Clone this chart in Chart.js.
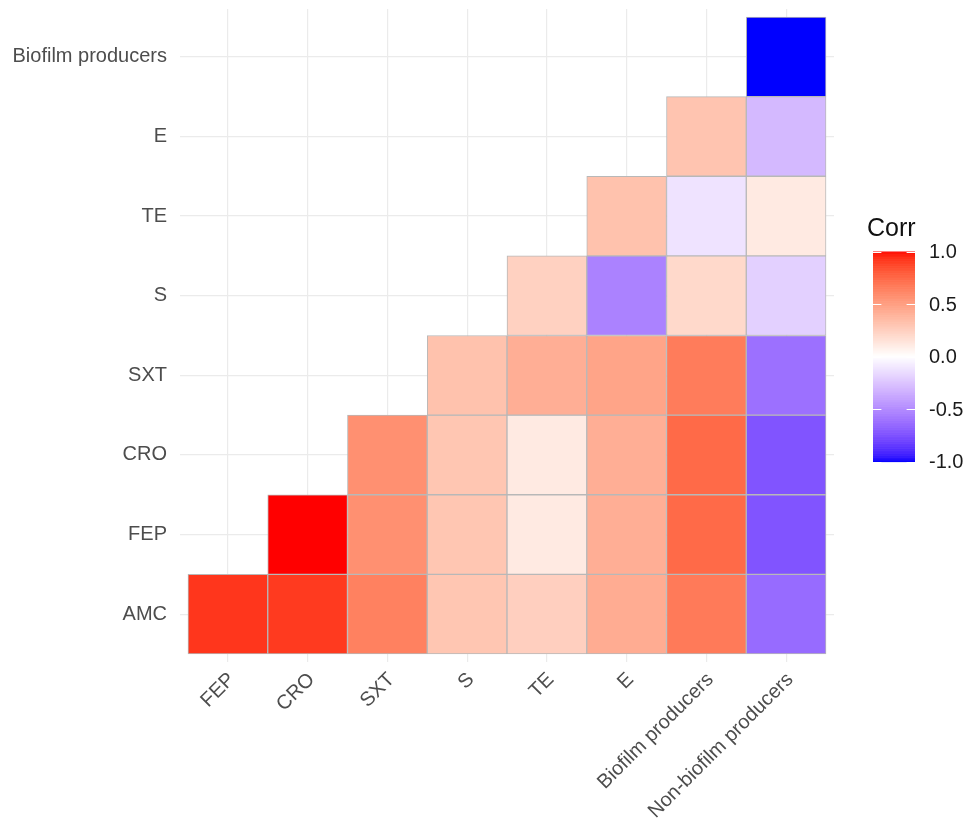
<!DOCTYPE html>
<html>
<head>
<meta charset="utf-8">
<script src="https://cdn.jsdelivr.net/npm/chart.js@4.4.1/dist/chart.umd.min.js"></script>
<style>
  html, body { margin: 0; padding: 0; background: #ffffff; }
  #wrap { width: 966px; height: 826px; }
</style>
</head>
<body>
<div id="wrap"><canvas id="corr" width="966" height="826"></canvas></div>
<script>
// Column (x) and row (y) variables of the lower-triangle correlation matrix
const xLabels = ['FEP', 'CRO', 'SXT', 'S', 'TE', 'E', 'Biofilm producers', 'Non-biofilm producers'];
const yLabels = ['AMC', 'FEP', 'CRO', 'SXT', 'S', 'TE', 'E', 'Biofilm producers'];

// Correlation coefficients, one array per row; row k starts at column k
const corrAMC      = [0.92, 0.91, 0.64, 0.30, 0.25, 0.43, 0.67, -0.64];
const corrFEP      = [1.00, 0.57, 0.30, 0.11, 0.42, 0.74, -0.74];
const corrCRO      = [0.57, 0.30, 0.11, 0.42, 0.74, -0.74];
const corrSXT      = [0.32, 0.42, 0.47, 0.66, -0.62];
const corrS        = [0.24, -0.54, 0.20, -0.20];
const corrTE       = [0.32, -0.12, 0.11];
const corrE        = [0.31, -0.30];
const corrBiofilm  = [-1.00];

const rows = [corrAMC, corrFEP, corrCRO, corrSXT, corrS, corrTE, corrE, corrBiofilm];

// Colour legend tick values
const legendTicks = [1.0, 0.5, 0.0, -0.5, -1.0];

// ---- diverging blue-white-red palette interpolated in CIE Lab ----
function toLin(c) { c /= 255; return c <= 0.04045 ? c / 12.92 : Math.pow((c + 0.055) / 1.055, 2.4); }
function fromLin(c) {
  c = Math.max(0, Math.min(1, c));
  const s = c <= 0.0031308 ? 12.92 * c : 1.055 * Math.pow(c, 1 / 2.4) - 0.055;
  return Math.round(Math.max(0, Math.min(1, s)) * 255);
}
const WX = 0.95047, WY = 1.0, WZ = 1.08883;
function rgbToLab(rgb) {
  const r = toLin(rgb[0]), g = toLin(rgb[1]), b = toLin(rgb[2]);
  const X = 0.4124 * r + 0.3576 * g + 0.1805 * b;
  const Y = 0.2126 * r + 0.7152 * g + 0.0722 * b;
  const Z = 0.0193 * r + 0.1192 * g + 0.9505 * b;
  const f = t => t > 0.008856 ? Math.cbrt(t) : 7.787 * t + 16 / 116;
  const fx = f(X / WX), fy = f(Y / WY), fz = f(Z / WZ);
  return [116 * fy - 16, 500 * (fx - fy), 200 * (fy - fz)];
}
function labToRgb(lab) {
  const fy = (lab[0] + 16) / 116, fx = fy + lab[1] / 500, fz = fy - lab[2] / 200;
  const inv = t => t * t * t > 0.008856 ? t * t * t : (t - 16 / 116) / 7.787;
  const X = WX * inv(fx), Y = WY * inv(fy), Z = WZ * inv(fz);
  const r = 3.2406 * X - 1.5372 * Y - 0.4986 * Z;
  const g = -0.9689 * X + 1.8758 * Y + 0.0415 * Z;
  const b = 0.0557 * X - 0.2040 * Y + 1.0570 * Z;
  return [fromLin(r), fromLin(g), fromLin(b)];
}
const LAB_LOW = rgbToLab([0, 0, 255]);
const LAB_MID = rgbToLab([255, 255, 255]);
const LAB_HIGH = rgbToLab([255, 0, 0]);
function corrColor(v) {
  const end = v >= 0 ? LAB_HIGH : LAB_LOW;
  const t = Math.min(1, Math.abs(v));
  const lab = [0, 1, 2].map(k => LAB_MID[k] + (end[k] - LAB_MID[k]) * t);
  const c = labToRgb(lab);
  return 'rgb(' + c[0] + ',' + c[1] + ',' + c[2] + ')';
}

// ---- build tile data: floating bars spanning one row band each ----
const cells = [];
const colors = [];
rows.forEach((vals, r) => {
  vals.forEach((v, k) => {
    const c = r + k;
    cells.push({ x: c, y: [r - 0.5, r + 0.5], v: v });
    colors.push(corrColor(v));
  });
});

const FONT = '"Liberation Sans", Arial, sans-serif';

// Colour-bar legend drawn beside the plot panel
const colorBarLegend = {
  id: 'colorBarLegend',
  afterDraw(chart) {
    const ctx = chart.ctx;
    const left = 873, width = 42, top = 251.5, bottom = 461.5;
    const yFor = v => top + (1 - v) / 2 * (bottom - top);
    ctx.save();
    ctx.fillStyle = '#111111';
    ctx.font = '25px ' + FONT;
    ctx.textAlign = 'left';
    ctx.textBaseline = 'alphabetic';
    ctx.fillText('Corr', 867, 236);
    const steps = 300;
    for (let i = 0; i < steps; i++) {
      const v = 1 - (i + 0.5) / steps * 2;
      ctx.fillStyle = corrColor(v);
      const y0 = top + i / steps * (bottom - top);
      const y1 = top + (i + 1) / steps * (bottom - top);
      ctx.fillRect(left, y0, width, y1 - y0 + 0.6);
    }
    ctx.strokeStyle = '#ffffff';
    ctx.lineWidth = 1;
    ctx.font = '20px ' + FONT;
    ctx.textBaseline = 'middle';
    legendTicks.forEach(v => {
      const y = Math.round(yFor(v)) + 0.5;
      ctx.beginPath();
      ctx.moveTo(left, y); ctx.lineTo(left + width / 5, y);
      ctx.moveTo(left + width - width / 5, y); ctx.lineTo(left + width, y);
      ctx.stroke();
      ctx.fillStyle = '#1a1a1a';
      ctx.fillText(v.toFixed(1), 929, yFor(v) + 1);
    });
    ctx.restore();
  }
};

const intTicks = n => axis => { axis.ticks = Array.from({ length: n }, (_, i) => ({ value: i })); };

new Chart(document.getElementById('corr'), {
  type: 'bar',
  data: {
    datasets: [{
      data: cells,
      backgroundColor: colors,
      borderColor: '#b8b8b8',
      borderWidth: 1,
      borderSkipped: false,
      barPercentage: 1,
      categoryPercentage: 1
    }]
  },
  options: {
    responsive: false,
    animation: false,
    events: [],
    layout: { padding: { top: 9, right: 132, left: 0, bottom: 0 } },
    plugins: { legend: { display: false }, tooltip: { enabled: false } },
    scales: {
      x: {
        type: 'linear',
        offset: false,
        min: -0.6,
        max: 7.6,
        afterBuildTicks: intTicks(xLabels.length),
        afterFit(scale) { scale.height = 164; scale.paddingLeft = 0; scale.paddingRight = 0; },
        grid: { color: '#ebebeb', lineWidth: 1.2, drawTicks: false, offset: false },
        border: { display: false },
        ticks: {
          autoSkip: false,
          minRotation: 45,
          maxRotation: 45,
          padding: 6,
          labelOffset: 4,
          color: '#4d4d4d',
          font: { family: FONT, size: 20 },
          callback: v => xLabels[v]
        }
      },
      y: {
        type: 'linear',
        min: -0.6,
        max: 7.6,
        afterBuildTicks: intTicks(yLabels.length),
        afterFit(scale) { scale.width = 180; scale.paddingTop = 0; scale.paddingBottom = 0; },
        grid: { color: '#ebebeb', lineWidth: 1.2, drawTicks: false },
        border: { display: false },
        ticks: {
          autoSkip: false,
          padding: 13,
          color: '#4d4d4d',
          font: { family: FONT, size: 20 },
          callback: v => yLabels[v]
        }
      }
    }
  },
  plugins: [colorBarLegend]
});
</script>
</body>
</html>
